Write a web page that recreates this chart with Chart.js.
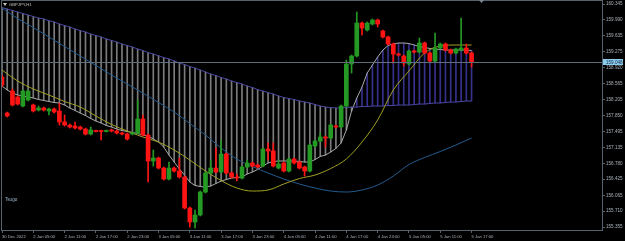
<!DOCTYPE html>
<html>
<head>
<meta charset="utf-8">
<script src="https://cdn.jsdelivr.net/npm/chart.js@4.4.0/dist/chart.umd.min.js"></script>
<style>
  html, body { margin: 0; padding: 0; background: #000; }
  #wrap { position: relative; width: 625px; height: 241px; }
</style>
</head>
<body>
<div id="wrap"><canvas id="chart"></canvas></div>
<script>
const SYMBOL = 'GBPJPY,H1';
const INDICATOR = 'Tsugo';
const FONT = "'Liberation Sans', Arial, sans-serif";

// H1 bars, one label every 6 bars
const timeTicks = ['30 Dec 2022', '2 Jan 05:00', '2 Jan 11:00', '2 Jan 17:00', '2 Jan 23:00',
    '3 Jan 05:00', '3 Jan 11:00', '3 Jan 17:00', '3 Jan 23:00', '4 Jan 05:00', '4 Jan 11:00',
    '4 Jan 17:00', '4 Jan 23:00', '5 Jan 05:00', '5 Jan 11:00', '5 Jan 17:00'];
const BARS_PER_TICK = 6;
const EMPTY_SLOTS = 25; // chart shift space on the right

const yTicks = [160.345, 159.990, 159.635, 159.275, 158.920, 158.565, 158.205, 157.850,
    157.495, 157.135, 156.780, 156.425, 156.065, 155.710, 155.355];
const Y_MIN = 155.288;
const Y_MAX = 160.413;

// OHLC
const opens = [158.712, 157.906, 158.398, 158.264, 158.063, 158.197, 158.085, 157.973, 158.018, 157.951,
    157.996, 157.951, 157.705, 157.637, 157.615, 157.593, 157.548, 157.436, 157.514, 157.503,
    157.492, 157.526, 157.503, 157.458, 157.436, 157.436, 157.458, 157.772, 157.414, 156.832,
    156.899, 156.675, 156.429, 156.675, 156.608, 156.474, 155.780, 155.467, 155.623, 156.138,
    156.563, 156.675, 156.586, 156.988, 156.563, 156.474, 156.451, 156.698, 156.787, 156.742,
    156.720, 157.100, 157.056, 156.675, 156.787, 156.608, 156.877, 156.809, 156.698, 156.608,
    157.168, 157.279, 157.369, 157.347, 157.615, 157.593, 158.063, 159.003, 159.182, 159.920,
    159.764, 159.898, 159.987, 159.741, 159.607, 159.450, 159.226, 159.182, 159.003, 159.294,
    159.271, 159.473, 159.249, 159.070, 159.361, 159.450, 159.316, 159.249, 159.316, 159.361,
    159.249];
const highs = [158.756, 157.928, 158.443, 158.287, 158.421, 158.421, 158.107, 158.063, 158.040, 158.018,
    158.018, 158.130, 157.861, 157.660, 157.705, 157.615, 157.570, 157.593, 157.526, 157.526,
    157.526, 157.548, 157.526, 157.481, 157.458, 157.481, 158.197, 157.861, 157.436, 157.078,
    156.921, 156.698, 156.809, 156.698, 156.899, 156.496, 155.802, 155.735, 156.160, 156.586,
    156.854, 157.123, 157.302, 157.011, 156.586, 156.541, 156.720, 156.854, 156.809, 156.765,
    157.123, 157.235, 157.235, 156.854, 156.809, 156.899, 156.899, 156.832, 156.720, 157.212,
    157.302, 157.458, 157.391, 157.660, 157.637, 158.085, 159.092, 159.204, 160.166, 159.943,
    159.943, 160.010, 160.010, 159.764, 159.629, 159.473, 159.249, 159.204, 159.316, 159.316,
    159.585, 159.495, 159.271, 159.696, 159.473, 159.473, 159.338, 159.361, 160.032, 159.450,
    159.271];
const lows = [158.488, 157.817, 158.063, 158.085, 158.040, 158.175, 157.928, 157.951, 157.951, 157.861,
    157.906, 157.637, 157.615, 157.570, 157.548, 157.526, 157.414, 157.414, 157.481, 157.302,
    157.481, 157.481, 157.436, 157.414, 157.302, 157.414, 157.436, 157.391, 156.362, 156.720,
    156.653, 156.407, 156.407, 156.586, 156.451, 155.758, 155.355, 155.332, 155.601, 156.116,
    156.541, 156.563, 156.563, 156.541, 156.451, 156.384, 156.429, 156.675, 156.698, 156.675,
    156.698, 156.854, 156.698, 156.653, 156.586, 156.586, 156.765, 156.653, 156.496, 156.586,
    157.145, 157.257, 157.145, 157.324, 157.570, 157.570, 158.040, 158.801, 159.159, 159.652,
    159.741, 159.875, 159.831, 159.585, 159.428, 159.025, 159.182, 158.958, 158.980, 159.249,
    159.249, 159.226, 159.047, 159.047, 159.338, 159.294, 159.226, 159.226, 159.294, 159.226,
    158.936];
const closes = [158.533, 157.839, 158.085, 158.107, 158.398, 158.398, 157.951, 158.018, 157.973, 157.996,
    157.928, 157.705, 157.637, 157.593, 157.570, 157.548, 157.436, 157.526, 157.492, 157.490,
    157.503, 157.503, 157.458, 157.436, 157.324, 157.458, 157.772, 157.414, 156.832, 156.899,
    156.675, 156.429, 156.675, 156.608, 156.474, 155.780, 155.467, 155.623, 156.138, 156.563,
    156.675, 156.586, 156.988, 156.563, 156.474, 156.451, 156.698, 156.787, 156.720, 156.698,
    157.100, 157.056, 156.720, 156.765, 156.608, 156.877, 156.787, 156.675, 156.608, 157.190,
    157.279, 157.369, 157.347, 157.637, 157.593, 158.063, 159.003, 159.182, 159.920, 159.808,
    159.920, 159.987, 159.898, 159.607, 159.450, 159.226, 159.204, 159.025, 159.294, 159.271,
    159.473, 159.249, 159.070, 159.361, 159.450, 159.316, 159.249, 159.338, 159.361, 159.249,
    159.048];

// cloud borders (purple span and grey span)
const spanB = [160.265, 160.234, 160.200, 160.166, 160.133, 160.099, 160.066, 160.032, 160.010, 159.972,
    159.943, 159.898, 159.864, 159.831, 159.786, 159.752, 159.719, 159.674, 159.641, 159.607,
    159.562, 159.529, 159.495, 159.450, 159.417, 159.383, 159.338, 159.305, 159.260, 159.226,
    159.188, 159.148, 159.115, 159.070, 159.025, 158.991, 158.947, 158.913, 158.868, 158.824,
    158.779, 158.745, 158.701, 158.667, 158.622, 158.589, 158.555, 158.510, 158.477, 158.432,
    158.398, 158.365, 158.331, 158.287, 158.253, 158.231, 158.208, 158.175, 158.152, 158.130,
    158.096, 158.063, 158.040, 158.029, 158.018, 158.018, 158.029, 158.040, 158.040, 158.051,
    158.051, 158.063, 158.063, 158.063, 158.074, 158.074, 158.085, 158.085, 158.085, 158.096,
    158.107, 158.107, 158.119, 158.130, 158.130, 158.141, 158.152, 158.152, 158.163, 158.175,
    158.175];
const spanA = [158.510, 158.421, 158.354, 158.309, 158.287, 158.264, 158.242, 158.208, 158.186, 158.163,
    158.141, 158.130, 158.085, 158.018, 157.962, 157.906, 157.850, 157.783, 157.727, 157.682,
    157.626, 157.593, 157.548, 157.514, 157.492, 157.470, 157.447, 157.414, 157.391, 157.324,
    157.257, 157.145, 156.966, 156.809, 156.653, 156.518, 156.362, 156.284, 156.261, 156.250,
    156.272, 156.328, 156.384, 156.418, 156.451, 156.463, 156.474, 156.541, 156.586, 156.642,
    156.720, 156.787, 156.821, 156.832, 156.832, 156.832, 156.832, 156.821, 156.809, 156.809,
    156.865, 156.933, 156.966, 157.033, 157.112, 157.235, 157.526, 157.951, 158.242, 158.488,
    158.801, 158.980, 159.159, 159.316, 159.417, 159.450, 159.473, 159.473, 159.461, 159.428,
    159.394, 159.372, 159.350, 159.338, 159.327, 159.316, 159.316, 159.316, 159.316, 159.316,
    159.305];

// moving averages, read every 3 bars: [bar index, value]
const maFast = [[0, 158.868], [3, 158.622], [6, 158.443], [9, 158.309], [12, 158.163], [15, 158.040],
    [18, 157.839], [21, 157.649], [24, 157.503], [27, 157.369], [30, 157.257], [33, 157.078],
    [36, 156.854], [39, 156.608], [42, 156.395], [45, 156.228], [48, 156.160], [51, 156.183],
    [54, 156.317], [57, 156.440], [60, 156.518], [63, 156.664], [66, 156.877], [69, 157.257],
    [72, 157.749], [75, 158.421], [78, 158.846], [81, 159.249], [84, 159.406], [87, 159.428],
    [90, 159.428]];
const maSlow = [[0, 160.256], [3, 160.021], [6, 159.820], [9, 159.607], [12, 159.394], [15, 159.182],
    [18, 158.969], [21, 158.756], [24, 158.555], [27, 158.354], [30, 158.141], [33, 157.928],
    [36, 157.671], [39, 157.414], [42, 157.123], [45, 156.877], [48, 156.709], [51, 156.563],
    [54, 156.429], [57, 156.317], [60, 156.228], [63, 156.160], [66, 156.138], [69, 156.183],
    [72, 156.295], [75, 156.496], [78, 156.753], [81, 156.910], [84, 157.044], [87, 157.190],
    [90, 157.347]];

const colors = {
    up: '#249a24',
    down: '#ff1414',
    cloudDown: '#7c7c7c',
    cloudUp: '#37318c',
    spanB: '#4a47a3',
    spanA: '#a9a9a9',
    maFast: '#a0a024',
    maSlow: '#235b8e',
    frame: '#56626e',
    text: '#aab2ba',
    priceLine: '#5f6e7c',
    priceBox: '#8ccbec'
};

// categories: bars + empty shift area
const categories = [];
const totalSlots = (timeTicks.length - 1) * BARS_PER_TICK + 1 + EMPTY_SLOTS;
for (let i = 0; i < totalSlots; i++) {
    categories.push(i % BARS_PER_TICK === 0 && timeTicks[i / BARS_PER_TICK] ? timeTicks[i / BARS_PER_TICK] : '');
}

function sparse(points) {
    const arr = new Array(opens.length).fill(null);
    points.forEach(([i, v]) => { arr[i] = v; });
    return arr;
}

const candleColors = opens.map((o, i) => closes[i] >= o ? colors.up : colors.down);
const cloudColors = spanA.map((a, i) => a > spanB[i] ? colors.cloudUp : colors.cloudDown);
const lastPrice = closes[closes.length - 1];

const overlay = {
    id: 'overlay',
    afterDatasetsDraw(chart) {
        const { ctx, chartArea: a, scales: { y } } = chart;
        const py = Math.round(y.getPixelForValue(lastPrice)) + 0.5;
        ctx.save();
        ctx.strokeStyle = colors.priceLine;
        ctx.lineWidth = 1;
        ctx.beginPath();
        ctx.moveTo(a.left, py);
        ctx.lineTo(a.right, py);
        ctx.stroke();
        ctx.restore();
    },
    afterDraw(chart) {
        const { ctx, chartArea: a, scales: { y } } = chart;
        ctx.save();
        // frame
        ctx.strokeStyle = colors.frame;
        ctx.lineWidth = 1;
        ctx.strokeRect(a.left - 0.5, a.top - 0.5, a.right - a.left + 1, a.bottom - a.top + 1);

        // current price box
        const py = Math.round(y.getPixelForValue(lastPrice));
        ctx.fillStyle = colors.priceBox;
        ctx.fillRect(a.right + 1, py - 3, 20, 6);
        ctx.fillStyle = '#0e2a44';
        ctx.font = '4.6px ' + FONT;
        ctx.textBaseline = 'middle';
        ctx.textAlign = 'left';
        ctx.fillText(lastPrice.toFixed(3), a.right + 4, py + 0.5);

        // symbol header
        ctx.fillStyle = '#c4c4c4';
        ctx.beginPath();
        ctx.moveTo(3, 3); ctx.lineTo(7, 3); ctx.lineTo(5, 6); ctx.closePath();
        ctx.fill();
        ctx.font = '4.2px ' + FONT;
        ctx.fillText(SYMBOL, 9, 5);

        // indicator name
        ctx.fillStyle = '#9cbad2';
        ctx.font = '4.6px ' + FONT;
        ctx.fillText(INDICATOR, 5, 200);

        // chart shift marker
        ctx.fillStyle = '#7c8894';
        ctx.beginPath();
        ctx.moveTo(479, 0); ctx.lineTo(484, 0); ctx.lineTo(481.5, 3); ctx.closePath();
        ctx.fill();
        ctx.restore();
    }
};

new Chart(document.getElementById('chart'), {
    type: 'bar',
    data: {
        labels: categories,
        datasets: [
            {
                data: spanA.map((v, i) => [v, spanB[i]]),
                backgroundColor: cloudColors,
                barThickness: 1,
                grouped: false,
                order: 10
            },
            {
                type: 'line',
                data: spanB,
                borderColor: colors.spanB,
                borderWidth: 1,
                pointRadius: 0,
                order: 6
            },
            {
                type: 'line',
                data: spanA,
                borderColor: colors.spanA,
                borderWidth: 1,
                pointRadius: 0,
                order: 6
            },
            {
                type: 'line',
                data: sparse(maFast),
                borderColor: colors.maFast,
                borderWidth: 1,
                pointRadius: 0,
                spanGaps: true,
                cubicInterpolationMode: 'monotone',
                order: 5
            },
            {
                type: 'line',
                data: sparse(maSlow),
                borderColor: colors.maSlow,
                borderWidth: 1,
                pointRadius: 0,
                spanGaps: true,
                cubicInterpolationMode: 'monotone',
                order: 5
            },
            {
                data: lows.map((l, i) => [l, highs[i]]),
                backgroundColor: candleColors,
                barThickness: 1,
                grouped: false,
                order: 2
            },
            {
                data: opens.map((o, i) => [o, closes[i]]),
                backgroundColor: candleColors,
                barThickness: 4,
                minBarLength: 1,
                grouped: false,
                order: 1
            }
        ]
    },
    options: {
        responsive: true,
        maintainAspectRatio: false,
        animation: false,
        layout: { padding: { left: 2, top: 1, right: 0, bottom: 0 } },
        plugins: {
            legend: { display: false },
            tooltip: { enabled: false }
        },
        scales: {
            x: {
                offset: false,
                grid: {
                    offset: false,
                    drawOnChartArea: false,
                    drawTicks: true,
                    tickLength: 3,
                    color: ctx => categories[ctx.index] ? colors.frame : 'transparent'
                },
                border: { display: false },
                ticks: {
                    autoSkip: false,
                    maxRotation: 0,
                    minRotation: 0,
                    align: 'start',
                    padding: 1,
                    color: colors.text,
                    font: { size: 4.2, family: FONT },
                    callback: (val, idx) => categories[idx]
                },
                afterFit: s => { s.height = 11; s.paddingLeft = 0; s.paddingRight = 0; }
            },
            y: {
                position: 'right',
                min: Y_MIN,
                max: Y_MAX,
                grid: {
                    drawOnChartArea: false,
                    drawTicks: true,
                    tickLength: 3,
                    color: colors.frame
                },
                border: { display: false },
                ticks: {
                    padding: 1,
                    color: colors.text,
                    font: { size: 4.6, family: FONT },
                    callback: v => v.toFixed(3)
                },
                afterBuildTicks: s => { s.ticks = yTicks.map(v => ({ value: v })); },
                afterFit: s => { s.width = 23; s.paddingTop = 0; s.paddingBottom = 0; }
            }
        }
    },
    plugins: [overlay]
});
</script>
</body>
</html>
